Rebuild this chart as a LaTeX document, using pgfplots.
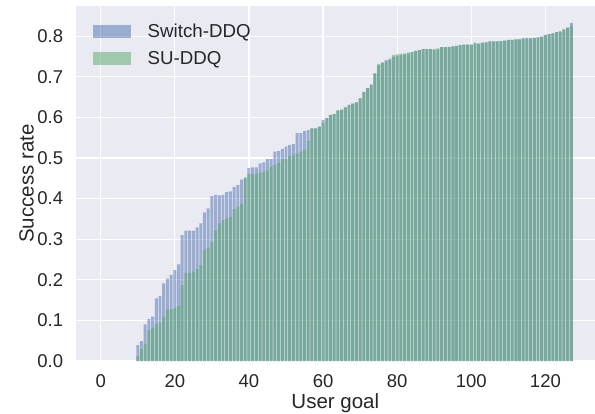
\documentclass[border=0pt]{standalone}
\usepackage{pgfplots}
\pgfplotsset{compat=1.18}
\usepackage{fontspec}
\setmainfont{Liberation Sans}
\definecolor{bgc}{HTML}{EAEAF2}
\definecolor{sbblue}{HTML}{4C72B0}
\definecolor{sbgreen}{HTML}{55A868}
\definecolor{txt}{HTML}{262626}
\begin{document}
\begin{tikzpicture}
\begin{axis}[
 name=ax,
 scale only axis, width=519.3bp, height=355bp,
 xmin=-6.746, xmax=133.38, ymin=0, ymax=0.8744,
 axis background/.style={fill=bgc},
 axis line style={draw=none},
 major tick length=0pt,
 grid=major, grid style={white, line width=1.2bp},
 xtick={0,20,40,60,80,100,120},
 ytick={0,0.1,0.2,0.3,0.4,0.5,0.6,0.7,0.8},
 yticklabels={0.0,0.1,0.2,0.3,0.4,0.5,0.6,0.7,0.8},
 /pgf/number format/assume math mode=true,
 ticklabel style={font=\fontsize{18.5bp}{22bp}\selectfont, text=txt, inner sep=0pt},
 xticklabel style={yshift=-13.5bp},
 yticklabel style={xshift=-12.4bp},
 label style={font=\fontsize{20.5bp}{24bp}\selectfont, text=txt},
 xlabel={User goal}, ylabel={Success rate},
 xlabel style={at={(axis description cs:0.5,-0.1324)}, anchor=base, inner sep=0pt},
 ylabel style={at={(axis description cs:-0.0809,0.5)}, anchor=base, inner sep=0pt},
 legend image code/.code={\fill[#1] (0bp,-6.35bp) rectangle (37.7bp,6.35bp);},
 legend cell align=left,
 legend style={draw=none, fill=none, inner sep=0pt, outer sep=0pt,
   at={(axis description cs:0.0339,0.947)}, anchor=north west,
   font=\fontsize{18.7bp}{22bp}\selectfont, text=txt, row sep=14bp,
   nodes={inner sep=0pt, text height=13bp, text depth=0bp},
   /tikz/every odd column/.append style={column sep=16.7bp}},
]
\addplot[ybar, bar width=0.8, bar shift=0pt, fill=sbblue, fill opacity=0.5, draw=none] coordinates {
(10,0.039) (11,0.049) (12,0.090) (13,0.103) (14,0.109) (15,0.154) (16,0.160) (17,0.191) (18,0.203) (19,0.212)
(20,0.224) (21,0.238) (22,0.310) (23,0.321) (24,0.321) (25,0.321) (26,0.329) (27,0.339) (28,0.366) (29,0.376)
(30,0.406) (31,0.409) (32,0.408) (33,0.409) (34,0.416) (35,0.418) (36,0.429) (37,0.434) (38,0.447) (39,0.452)
(40,0.475) (41,0.477) (42,0.477) (43,0.487) (44,0.489) (45,0.497) (46,0.497) (47,0.516) (48,0.517) (49,0.522)
(50,0.528) (51,0.532) (52,0.534) (53,0.561) (54,0.561) (55,0.567) (56,0.569) (57,0.573) (58,0.573) (59,0.577)
(60,0.594) (61,0.599) (62,0.606) (63,0.608) (64,0.616) (65,0.619) (66,0.625) (67,0.631) (68,0.634) (69,0.637)
(70,0.647) (71,0.663) (72,0.672) (73,0.681) (74,0.707) (75,0.728) (76,0.735) (77,0.741) (78,0.742) (79,0.750)
(80,0.752) (81,0.754) (82,0.755) (83,0.757) (84,0.761) (85,0.764) (86,0.766) (87,0.768) (88,0.768) (89,0.768)
(90,0.766) (91,0.768) (92,0.773) (93,0.773) (94,0.774) (95,0.775) (96,0.776) (97,0.778) (98,0.779) (99,0.779)
(100,0.779) (101,0.784) (102,0.782) (103,0.784) (104,0.785) (105,0.787) (106,0.787) (107,0.787) (108,0.788) (109,0.789)
(110,0.791) (111,0.791) (112,0.792) (113,0.792) (114,0.796) (115,0.796) (116,0.796) (117,0.796) (118,0.797) (119,0.799)
(120,0.803) (121,0.805) (122,0.807) (123,0.810) (124,0.810) (125,0.815) (126,0.821) (127,0.833)
};
\addlegendentry{Switch-DDQ}
\addplot[ybar, bar width=0.8, bar shift=0pt, fill=sbgreen, fill opacity=0.5, draw=none] coordinates {
(10,0.012) (11,0.029) (12,0.042) (13,0.076) (14,0.082) (15,0.091) (16,0.094) (17,0.109) (18,0.127) (19,0.127)
(20,0.130) (21,0.135) (22,0.187) (23,0.217) (24,0.217) (25,0.220) (26,0.227) (27,0.236) (28,0.273) (29,0.279)
(30,0.294) (31,0.321) (32,0.339) (33,0.347) (34,0.351) (35,0.355) (36,0.374) (37,0.380) (38,0.387) (39,0.450)
(40,0.461) (41,0.461) (42,0.462) (43,0.464) (44,0.466) (45,0.469) (46,0.479) (47,0.483) (48,0.488) (49,0.497)
(50,0.498) (51,0.505) (52,0.506) (53,0.511) (54,0.516) (55,0.520) (56,0.542) (57,0.573) (58,0.573) (59,0.577)
(60,0.587) (61,0.599) (62,0.606) (63,0.608) (64,0.618) (65,0.619) (66,0.625) (67,0.631) (68,0.634) (69,0.637)
(70,0.647) (71,0.663) (72,0.672) (73,0.681) (74,0.709) (75,0.731) (76,0.735) (77,0.737) (78,0.745) (79,0.754)
(80,0.755) (81,0.757) (82,0.758) (83,0.760) (84,0.761) (85,0.764) (86,0.766) (87,0.768) (88,0.768) (89,0.768)
(90,0.769) (91,0.770) (92,0.773) (93,0.773) (94,0.774) (95,0.775) (96,0.776) (97,0.778) (98,0.779) (99,0.779)
(100,0.779) (101,0.782) (102,0.782) (103,0.784) (104,0.785) (105,0.787) (106,0.787) (107,0.787) (108,0.788) (109,0.789)
(110,0.791) (111,0.791) (112,0.792) (113,0.792) (114,0.792) (115,0.793) (116,0.793) (117,0.796) (118,0.797) (119,0.799)
(120,0.803) (121,0.805) (122,0.807) (123,0.810) (124,0.813) (125,0.818) (126,0.821) (127,0.825)
};
\addlegendentry{SU-DDQ}
\end{axis}
\pgfresetboundingbox
\path[use as bounding box] ([xshift=-75.7bp,yshift=-53bp]ax.south west) rectangle ([yshift=6bp]ax.north east);
\end{tikzpicture}
\end{document}
